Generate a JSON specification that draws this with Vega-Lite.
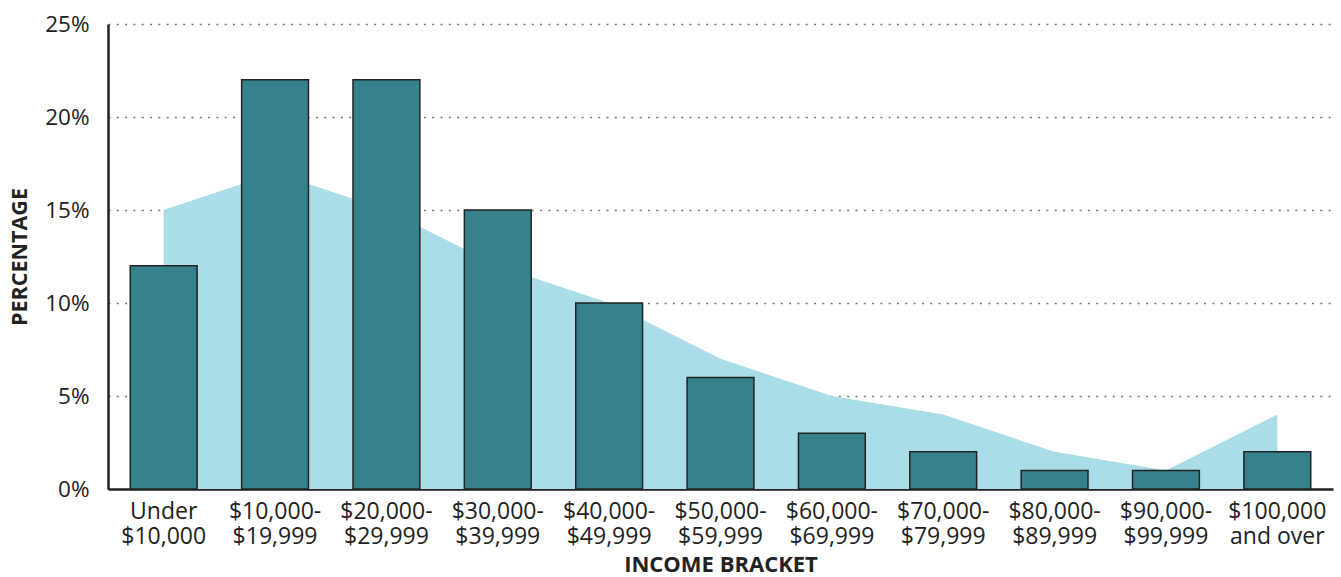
{
  "$schema": "https://vega.github.io/schema/vega-lite/v6.json",
  "width": 1225,
  "height": 465,
  "autosize": "none",
  "padding": {"left": 108, "top": 24, "right": 8, "bottom": 88},
  "background": "white",
  "config": {
    "font": "Open Sans",
    "view": {"stroke": null},
    "axis": {"labelColor": "#222222", "titleColor": "#222222", "labelFont": "Open Sans", "titleFont": "Open Sans"}
  },
  "data": {
    "values": [
      {"bracket": "Under $10,000", "bar": 12, "area": 15},
      {"bracket": "$10,000-$19,999", "bar": 22, "area": 17},
      {"bracket": "$20,000-$29,999", "bar": 22, "area": 15},
      {"bracket": "$30,000-$39,999", "bar": 15, "area": 12},
      {"bracket": "$40,000-$49,999", "bar": 10, "area": 10},
      {"bracket": "$50,000-$59,999", "bar": 6, "area": 7},
      {"bracket": "$60,000-$69,999", "bar": 3, "area": 5},
      {"bracket": "$70,000-$79,999", "bar": 2, "area": 4},
      {"bracket": "$80,000-$89,999", "bar": 1, "area": 2},
      {"bracket": "$90,000-$99,999", "bar": 1, "area": 1},
      {"bracket": "$100,000 and over", "bar": 2, "area": 4}
    ]
  },
  "encoding": {
    "x": {
      "field": "bracket",
      "type": "nominal",
      "sort": null,
      "scale": {"paddingInner": 0.4, "paddingOuter": 0.2},
      "axis": {
        "title": "INCOME BRACKET",
        "titleFontSize": 22,
        "titleFontWeight": "bold",
        "titlePadding": 6,
        "labelAngle": 0,
        "labelFontSize": 23,
        "labelLineHeight": 25,
        "labelPadding": 11,
        "ticks": false,
        "domainColor": "#222222",
        "domainWidth": 2.5,
        "labelExpr": "indexof(datum.value,'-') > 0 ? [slice(datum.value,0,indexof(datum.value,'-')+1), slice(datum.value,indexof(datum.value,'-')+1)] : [slice(datum.value,0,indexof(datum.value,' ')), slice(datum.value,indexof(datum.value,' ')+1)]"
      }
    }
  },
  "layer": [
    {
      "mark": {"type": "area", "color": "#aadde7", "opacity": 1},
      "encoding": {
        "y": {
          "field": "area",
          "type": "quantitative",
          "scale": {"domain": [0, 25], "nice": false},
          "axis": {
            "title": "PERCENTAGE",
            "titleFontSize": 21.5,
            "titleFontWeight": "bold",
            "titlePadding": 13,
            "values": [0, 5, 10, 15, 20, 25],
            "labelExpr": "datum.value + '%'",
            "labelFontSize": 22.5,
            "labelPadding": 19,
            "ticks": false,
            "domainColor": "#222222",
            "domainWidth": 2.5,
            "grid": true,
            "gridColor": "#777777",
            "gridDash": [2, 6.3],
            "gridWidth": 1.5
          }
        }
      }
    },
    {
      "mark": {"type": "bar", "color": "#35828c", "stroke": "#222222", "strokeWidth": 1.5},
      "encoding": {
        "y": {"field": "bar", "type": "quantitative"}
      }
    }
  ]
}
